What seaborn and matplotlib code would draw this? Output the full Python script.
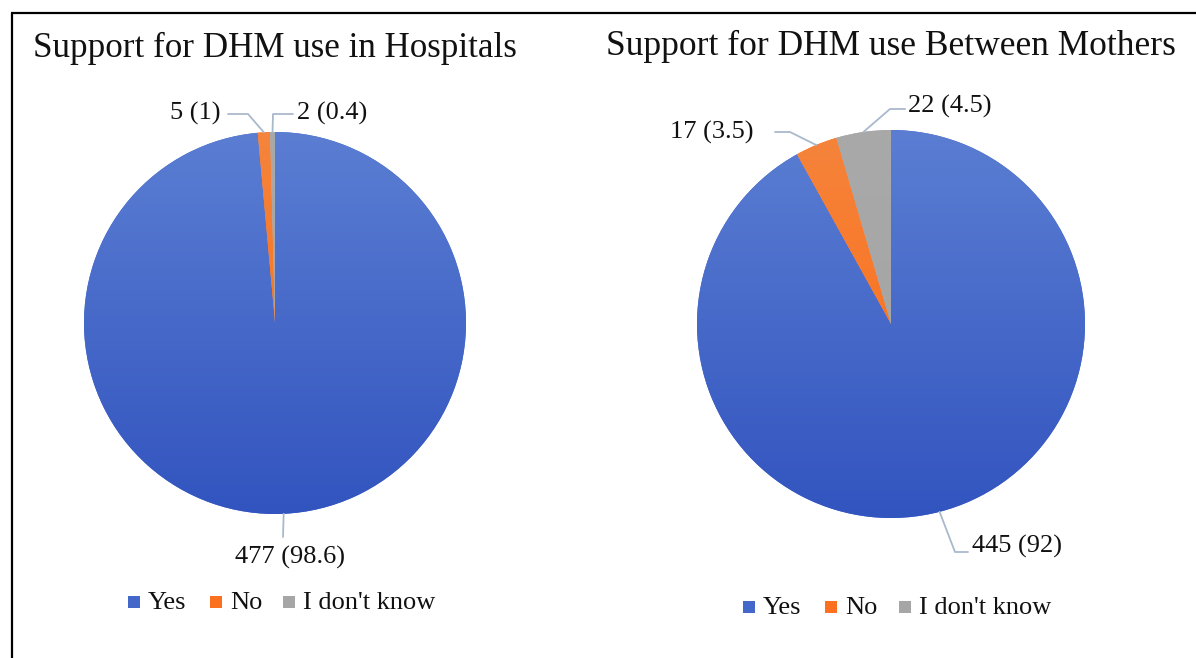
import numpy as np
import matplotlib
matplotlib.use("Agg")
import matplotlib.pyplot as plt
from matplotlib.colors import LinearSegmentedColormap
import seaborn as sns

# Survey responses: counts and percentages
categories = ["Yes", "No", "I don't know"]
hospital_counts = [477, 5, 2]
hospital_pct = [98.6, 1, 0.4]
mothers_counts = [445, 17, 22]
mothers_pct = [92, 3.5, 4.5]
titles = ["Support for DHM use in Hospitals", "Support for DHM use Between Mothers"]

sns.set_theme(style="white")
plt.rcParams["font.family"] = ["Liberation Serif", "DejaVu Serif"]

W, H = 1196, 658
fig = plt.figure(figsize=(W / 100, H / 100), dpi=100)
ax = fig.add_axes([0, 0, 1, 1])
ax.set_axis_off()

# (top colour, bottom colour) for each slice gradient
grads = [("#5b7ed3", "#3254bf"), ("#f5843c", "#fe6810"), ("#a9a9a9", "#a3a3a3")]
legend_cols = ["#4468c9", "#fb7120", "#a6a6a6"]
line_col = "#a9b9cc"
TXT = "#111111"
LABEL_FS = 19


def draw_pie(cx, cy, r, counts, pct, label_specs):
    wedges, _ = ax.pie(counts, center=(cx, cy), radius=r, startangle=90,
                       counterclock=False, colors=legend_cols,
                       wedgeprops=dict(linewidth=0), frame=True)
    for w, (c_top, c_bot) in zip(wedges, grads):
        cmap = LinearSegmentedColormap.from_list("g", [c_bot, c_top])
        grad = np.linspace(0, 1, 256).reshape(-1, 1)
        im = ax.imshow(grad, cmap=cmap, origin="lower", aspect="auto",
                       extent=(cx - r, cx + r, cy - r, cy + r), zorder=2)
        im.set_clip_path(w)
    for w, n, p, spec in zip(wedges, counts, pct, label_specs):
        mid = np.deg2rad((w.theta1 + w.theta2) / 2)
        ax_, ay_ = cx + r * np.cos(mid), cy + r * np.sin(mid)
        pts = [(ax_, ay_)] + [(cx + dx, cy + dy) for dx, dy in spec["path"]]
        xs, ys = zip(*pts)
        ax.plot(xs, ys, color=line_col, lw=1.3, zorder=3)
        tx, ty = cx + spec["text"][0], cy + spec["text"][1]
        ax.text(tx, ty, f"{n} ({p:g})", ha=spec["ha"], va="center",
                fontsize=LABEL_FS, color=TXT, zorder=4)


# Left pie
draw_pie(275, H - 323, 191, hospital_counts, hospital_pct, [
    dict(path=[(8, -214)], text=(15, -234), ha="center"),
    dict(path=[(-27, 209), (-47, 209)], text=(-54, 210), ha="right"),
    dict(path=[(-2, 209), (18, 209)], text=(22, 210), ha="left"),
])
# Right pie
draw_pie(891, H - 324, 194, mothers_counts, mothers_pct, [
    dict(path=[(64, -228), (77, -228)], text=(81, -222), ha="left"),
    dict(path=[(-101, 192), (-116, 192)], text=(-138, 192), ha="right"),
    dict(path=[(-1, 215), (14, 215)], text=(17, 218), ha="left"),
])

ax.set_xlim(0, W)
ax.set_ylim(0, H)
ax.set_aspect("auto")

# Titles
ax.text(33, H - 48, titles[0], fontsize=25.2, ha="left", va="center", color=TXT)
ax.text(606, H - 46, titles[1], fontsize=25.5, ha="left", va="center", color=TXT)

# Legends
def draw_legend(x0, y, gaps):
    x = x0
    for lab, col, g in zip(categories, legend_cols, gaps):
        ax.add_patch(plt.Rectangle((x, H - y - 6), 12, 12, color=col, lw=0))
        ax.text(x + 20, H - y - 1, lab, fontsize=LABEL_FS, ha="left", va="center", color=TXT)
        x += g

draw_legend(128, 602, [82, 73, 0])
draw_legend(743, 607, [82, 74, 0])

# Frame lines at the top and left edge
ax.plot([11, W], [H - 12.5, H - 12.5], color="black", lw=1.6, solid_capstyle="butt")
ax.plot([11.5, 11.5], [0, H - 12.5], color="black", lw=1.6, solid_capstyle="butt")

fig.savefig("out.png", dpi=100)
